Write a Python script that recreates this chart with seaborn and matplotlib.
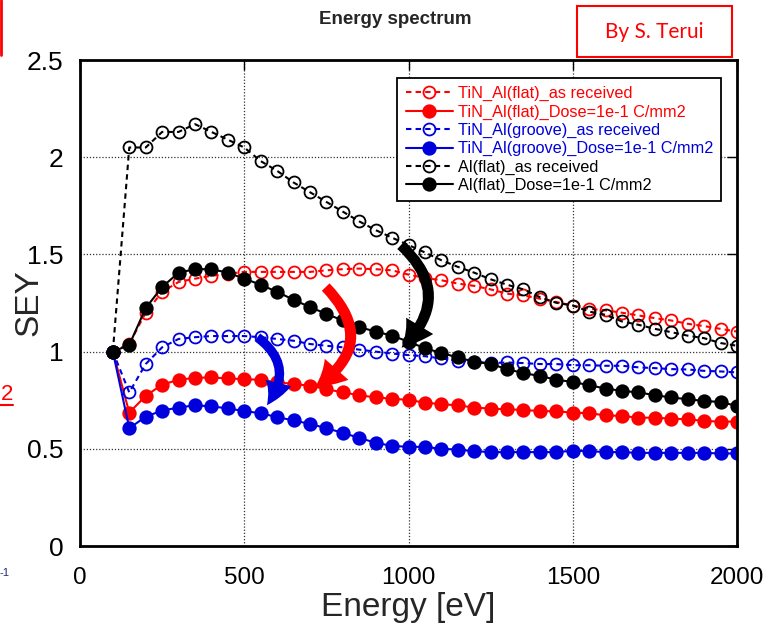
import matplotlib
matplotlib.use("Agg")
import matplotlib.pyplot as plt
import pandas as pd
import seaborn as sns
from matplotlib.patches import FancyArrowPatch, Rectangle
from matplotlib.lines import Line2D

# ---------------- data ----------------
energy = [100, 150, 200, 250, 300, 350, 400, 450, 500, 550, 600, 650, 700,
          750, 800, 850, 900, 950, 1000, 1050, 1100, 1150, 1200, 1250, 1300,
          1350, 1400, 1450, 1500, 1550, 1600, 1650, 1700, 1750, 1800, 1850,
          1900, 1950, 2000]

tin_flat_asrec = [1.0, 1.04, 1.20, 1.307, 1.358, 1.375, 1.39, 1.40, 1.41, 1.41,
                  1.41, 1.41, 1.41, 1.418, 1.424, 1.427, 1.424, 1.418, 1.396,
                  1.379, 1.367, 1.35, 1.338, 1.32, 1.298, 1.289, 1.272, 1.255,
                  1.237, 1.22, 1.212, 1.20, 1.186, 1.172, 1.16, 1.143, 1.131,
                  1.117, 1.103]
tin_flat_dose = [1.0, 0.686, 0.772, 0.830, 0.855, 0.865, 0.867, 0.862, 0.858,
                 0.855, 0.842, 0.834, 0.824, 0.807, 0.790, 0.776, 0.764, 0.758,
                 0.751, 0.738, 0.729, 0.724, 0.712, 0.707, 0.703, 0.700, 0.694,
                 0.693, 0.686, 0.683, 0.672, 0.669, 0.660, 0.660, 0.655, 0.652,
                 0.643, 0.640, 0.640]
tin_groove_asrec = [1.0, 0.79, 0.936, 1.022, 1.065, 1.074, 1.08, 1.08, 1.08,
                    1.074, 1.065, 1.056, 1.039, 1.03, 1.022, 1.01, 1.0, 0.99,
                    0.982, 0.976, 0.965, 0.953, 0.948, 0.941, 0.944, 0.941,
                    0.936, 0.936, 0.93, 0.93, 0.927, 0.927, 0.919, 0.915, 0.91,
                    0.908, 0.901, 0.898, 0.893]
tin_groove_dose = [1.0, 0.606, 0.665, 0.697, 0.712, 0.724, 0.718, 0.708, 0.694,
                   0.683, 0.663, 0.646, 0.628, 0.606, 0.582, 0.556, 0.531,
                   0.515, 0.510, 0.510, 0.500, 0.496, 0.488, 0.483, 0.483,
                   0.483, 0.483, 0.483, 0.490, 0.488, 0.483, 0.483, 0.479,
                   0.479, 0.479, 0.479, 0.479, 0.476, 0.476]
al_flat_asrec = [1.0, 2.05, 2.05, 2.13, 2.13, 2.17, 2.13, 2.09, 2.05, 1.98,
                 1.93, 1.87, 1.82, 1.77, 1.72, 1.67, 1.625, 1.586, 1.548, 1.51,
                 1.47, 1.436, 1.406, 1.372, 1.344, 1.32, 1.28, 1.251, 1.237,
                 1.206, 1.189, 1.155, 1.138, 1.117, 1.10, 1.082, 1.069, 1.044,
                 1.03]
al_flat_dose = [1.0, 1.034, 1.224, 1.332, 1.406, 1.424, 1.424, 1.406, 1.375,
                1.344, 1.307, 1.267, 1.229, 1.194, 1.16, 1.126, 1.103, 1.082,
                1.051, 1.017, 0.993, 0.97, 0.948, 0.936, 0.91, 0.889, 0.875,
                0.855, 0.844, 0.827, 0.81, 0.798, 0.79, 0.776, 0.764, 0.755,
                0.746, 0.741, 0.72]

labels = ["TiN_Al(flat)_as received", "TiN_Al(flat)_Dose=1e-1 C/mm2",
          "TiN_Al(groove)_as received", "TiN_Al(groove)_Dose=1e-1 C/mm2",
          "Al(flat)_as received", "Al(flat)_Dose=1e-1 C/mm2"]
values = [tin_flat_asrec, tin_flat_dose, tin_groove_asrec, tin_groove_dose,
          al_flat_asrec, al_flat_dose]
colors = ["#ff0000", "#ff0000", "#0000dd", "#0000dd", "#000000", "#000000"]
dashed = [True, False, True, False, True, False]

x_ticks = [0, 500, 1000, 1500, 2000]
y_ticks = [0, 0.5, 1, 1.5, 2, 2.5]
y_ticklabels = ["0", "0.5", "1", "1.5", "2", "2.5"]

# ---------------- figure ----------------
sns.set_style("white")
plt.rcParams['font.family'] = ['Liberation Sans', 'DejaVu Sans']

W, H = 764, 634
fig = plt.figure(figsize=(W / 100, H / 100), dpi=100)
ax = fig.add_axes([80 / W, (H - 546) / H, (737 - 80) / W, (546 - 60) / H])

for lab, vals, col, dsh in zip(labels, values, colors, dashed):
    df = pd.DataFrame({"Energy": energy, "SEY": vals})
    sns.lineplot(data=df, x="Energy", y="SEY", ax=ax, color=col,
                 linestyle=(0, (2.6, 2.0)) if dsh else "-",
                 linewidth=1.5, marker="o", markersize=9 if not dsh else 8.6,
                 markerfacecolor="none" if dsh else col,
                 mec=col, mew=1.3, sort=False, estimator=None,
                 label=lab, legend=False)

ax.set_xlim(0, 2000)
ax.set_ylim(0, 2.5)
ax.set_xticks(x_ticks)
ax.set_xticklabels([str(t) for t in x_ticks])
ax.set_yticks(y_ticks)
ax.set_yticklabels(y_ticklabels)
ax.set_axisbelow(True)
ax.grid(True, linestyle=(0, (1, 1.5)), color="#333333", linewidth=0.9)
for sp in ax.spines.values():
    sp.set_linewidth(2.0)
    sp.set_color("black")
    sp.set_visible(True)
ax.tick_params(direction="in", length=7, width=1, top=True, right=True,
               colors="black")
ax.tick_params(axis="y", pad=12, labelsize=19)
ax.tick_params(axis="x", pad=15, labelsize=17.5)

ax.set_xlabel("Energy [eV]", fontsize=24, labelpad=2)
ax.set_ylabel("SEY", fontsize=24, va="center")
ax.yaxis.set_label_coords(-0.078, 0.5)

leg = ax.legend(handles=ax.lines[:6], loc="upper right",
                bbox_to_anchor=(721 / W, 1 - 78 / H),
                bbox_transform=fig.transFigure, fontsize=11.7,
                labelcolor="linecolor", frameon=True, fancybox=False,
                edgecolor="black", framealpha=1, borderpad=0.5,
                labelspacing=0.2, handlelength=2.9, handletextpad=0.3,
                borderaxespad=0)
leg.get_frame().set_linewidth(1.3)

# curved arrows
arrows = [
    ((977, 1.548), (979, 1.02), -0.53, "#000000", 0.32, 0.95, 0.85),
    ((748, 1.332), (715, 0.815), -0.60, "#ff0000", 0.32, 0.95, 0.85),
    ((540, 1.074), (569, 0.724), -0.50, "#0000dd", 0.28, 0.80, 0.75),
]
for (p0, p1, rad, col, tw, hw, hl) in arrows:
    arr = FancyArrowPatch(p0, p1, connectionstyle=f"arc3,rad={rad}",
                          arrowstyle=f"simple,tail_width={tw},head_width={hw},head_length={hl}",
                          mutation_scale=24, color=col, lw=0, zorder=10,
                          shrinkA=0, shrinkB=0)
    ax.add_patch(arr)

# title
fig.text(395 / W, 1 - 20 / H, "Energy spectrum", fontsize=13.5,
         fontweight="bold", ha="center", va="center")

# author box
fig.patches.append(Rectangle((577 / W, 1 - 57 / H), 155 / W, 51 / H,
                             transform=fig.transFigure, fill=False,
                             edgecolor="#ff0000", linewidth=1.5))
fig.text(654 / W, 1 - 32 / H, "By S. Terui", fontsize=15, color="#ff0000",
         ha="center", va="center", family=["Lato", "DejaVu Sans"])

# fragments of neighbouring slide content at the left edge
fig.lines.append(Line2D([1 / W, 1 / W], [1 - 0 / H, 1 - 55 / H],
                        transform=fig.transFigure, color="#ff0000", lw=2))
fig.text(13 / W, 1 - 394 / H, "2", fontsize=16, color="#ff0000",
         ha="right", va="center")
fig.lines.append(Line2D([0, 13 / W], [1 - 405 / H, 1 - 405 / H],
                        transform=fig.transFigure, color="#ff0000", lw=1.5))
fig.text(10 / W, 1 - 573 / H, "-1", fontsize=8, color="#1f2a6e",
         ha="right", va="center")

fig.savefig("out.png", dpi=100)
